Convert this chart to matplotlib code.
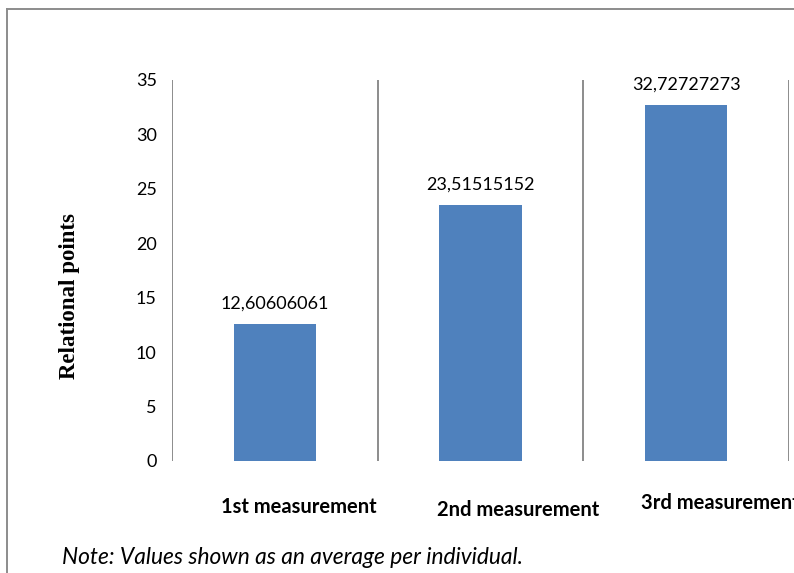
import matplotlib
matplotlib.use("Agg")
import matplotlib.pyplot as plt
from matplotlib.lines import Line2D

# average relational points per measurement
categories = ["1st measurement", "2nd measurement", "3rd measurement"]
values = [12.60606061, 23.51515152, 32.72727273]
value_labels = ["12,60606061", "23,51515152", "32,72727273"]
yticks = [0, 5, 10, 15, 20, 25, 30, 35]

bar_color = "#4F81BD"
grid_color = "#8C8C8C"
sans = ["Lato", "DejaVu Sans"]

fig = plt.figure(figsize=(7.94, 5.73), dpi=100)
ax = fig.add_axes([0.2166, 0.1955, 0.7771, 0.6649])

x = list(range(len(categories)))
ax.bar(x, values, width=0.4, color=bar_color, zorder=2)

# separators between categories
for g in [-0.5, 0.5, 1.5, 2.5]:
    ax.axvline(g, color=grid_color, lw=1.4, zorder=1)

for xi, v, lab in zip(x, values, value_labels):
    ax.annotate(lab, (xi, v), xytext=(0, 9), textcoords="offset points",
                ha="center", va="bottom", fontsize=13, family=sans)

ax.set_xlim(-0.5, 2.5)
ax.set_ylim(0, 35)
ax.set_yticks(yticks)
ax.set_yticklabels([str(t) for t in yticks], fontsize=13, family=sans)
ax.tick_params(axis="y", length=0, pad=11)
ax.set_xticks([])
for s in ax.spines.values():
    s.set_visible(False)

fig.text(69 / 794, 1 - 296 / 573, "Relational points", family="Liberation Serif",
         fontweight="bold", fontsize=16.5, rotation=90, ha="center", va="center")

# category names sit below the plot at slightly uneven offsets
cat_pos = [(0.117, -0.12, "center"), (1.182, -0.128, "center"), (1.78, -0.11, "left")]
for name, (cx, cy, ha) in zip(categories, cat_pos):
    ax.text(cx, cy, name, transform=ax.get_xaxis_transform(), ha=ha, va="center",
            fontsize=14.5, fontweight="bold", family=sans)

fig.text(62 / 794, 1 - 557 / 573, "Note: Values shown as an average per individual.",
         fontsize=16.4, style="italic", family=sans, va="center")

# outer frame
fig.add_artist(Line2D([7 / 794, 1], [1 - 9 / 573, 1 - 9 / 573], color=grid_color, lw=1.4))
fig.add_artist(Line2D([7 / 794, 7 / 794], [0, 1 - 9 / 573], color=grid_color, lw=1.4))

fig.savefig("out.png", dpi=100)
